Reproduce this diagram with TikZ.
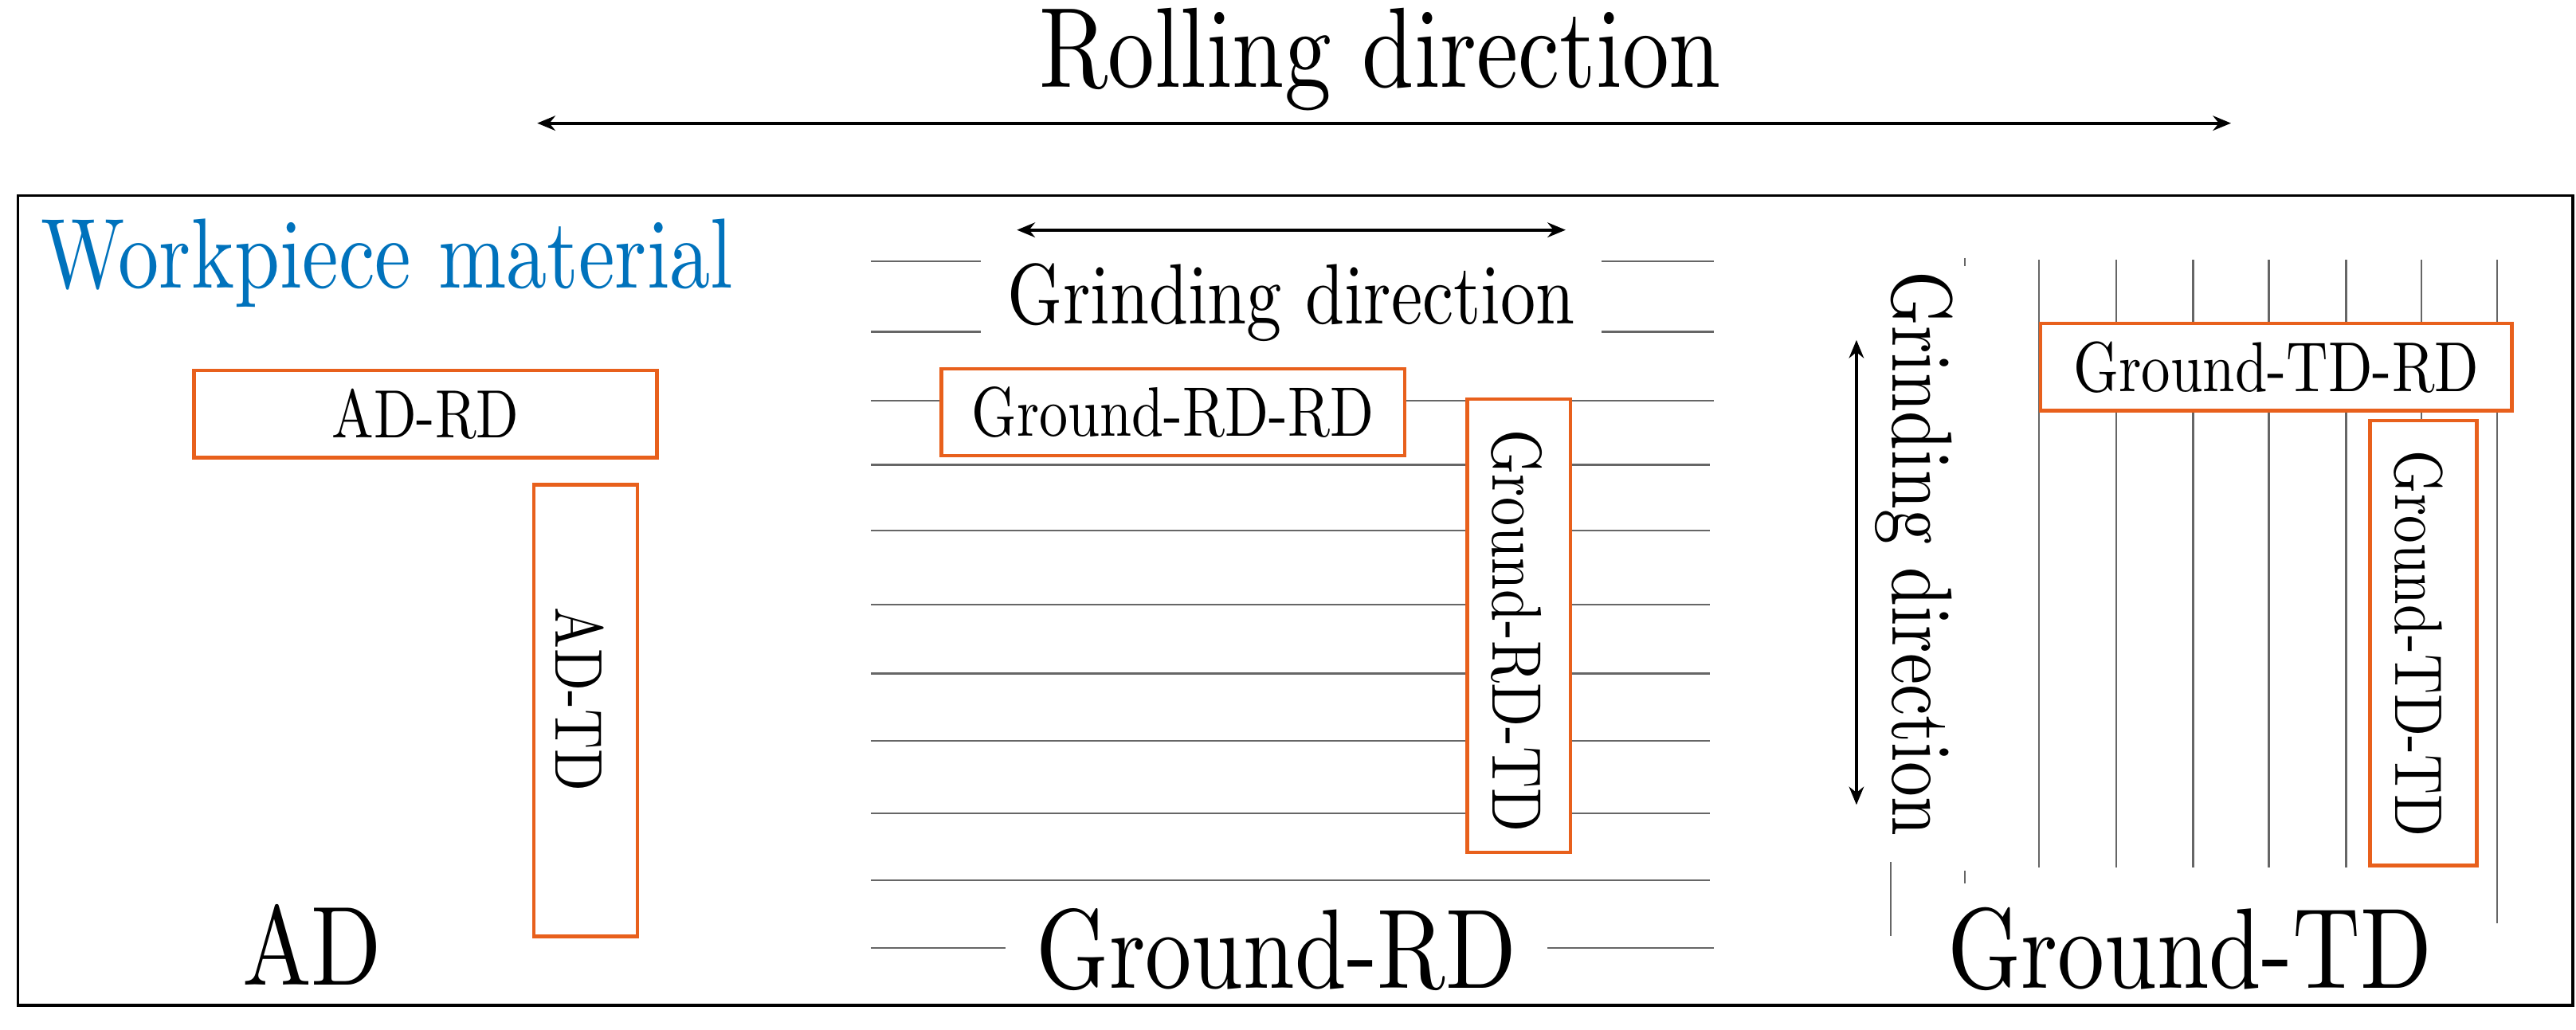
\documentclass[tikz,border=0pt]{standalone}
\usetikzlibrary{arrows.meta}
\definecolor{box}{RGB}{232,96,28}
\definecolor{wblue}{RGB}{0,114,188}
\newcommand{\fw}[2]{\resizebox{#1pt}{!}{\scalebox{1}[1.22]{#2}}}
\begin{document}
\begin{tikzpicture}[x=1pt,y=1pt,
  frame/.style={draw=black,line width=1.6pt},
  ob/.style={draw=box,line width=2.2pt,inner sep=0pt},
  gl/.style={draw=black!60,line width=1.1pt},
  arr/.style={line width=2pt,{Stealth[length=11pt,width=9pt]}-{Stealth[length=11pt,width=9pt]}},
  lab/.style={inner sep=0pt,text=black}]
\useasboundingbox (0,-627) rectangle (1568,0);
% top
\node[lab] (roll) at (840,-36) {\fw{415}{Rolling direction}};
\coordinate (ra) at (327,-75); \coordinate (rb) at (1358,-75);
\draw[arr] (ra) -- (rb);
\node[frame,minimum width=1555pt,minimum height=493pt,inner sep=0pt] (fr) at (788.5,-365.5) {};
\node[lab,text=wblue,anchor=west] (wm) at (25,-160) {\fw{421}{Workpiece material}};
% AD
\node[ob,minimum width=282pt,minimum height=53pt] (adrd) at (259,-252) {};
\node[lab] at (adrd) {\fw{114}{AD-RD}};
\node[ob,minimum width=63pt,minimum height=275pt] (adtd) at (356.5,-432.5) {};
\node[lab,rotate=-90] at (353,-426) {\fw{112}{AD-TD}};
\node[lab] (ad) at (190,-575) {\fw{85}{AD}};
% middle lines
\foreach \y in {159,202}{\draw[gl] (530,-\y) -- (597,-\y); \draw[gl] (975,-\y) -- (1043,-\y);}
\draw[gl] (530,-244) -- (573,-244); \draw[gl] (855,-244) -- (893,-244); \draw[gl] (956,-244) -- (1043,-244);
\foreach \y in {283,323,368,410,451,495}{\draw[gl] (530,-\y) -- (893,-\y); \draw[gl] (956,-\y) -- (1041,-\y);}
\draw[gl] (530,-536) -- (1041,-536);
\draw[gl] (530,-577) -- (612,-577); \draw[gl] (942,-577) -- (1043,-577);
\coordinate (ga) at (619,-140); \coordinate (gb) at (953,-140);
\draw[arr] (ga) -- (gb);
\node[lab] (gd) at (786,-184) {\fw{345}{Grinding direction}};
\node[ob,minimum width=282pt,minimum height=53pt] (rdrd) at (714,-251) {};
\node[lab] at (rdrd) {\fw{245}{Ground-RD-RD}};
\node[ob,minimum width=63pt,minimum height=276pt] (rdtd) at (924.5,-381) {};
\node[lab,rotate=-90] at (923,-384) {\fw{245}{Ground-RD-TD}};
\node[lab] (grd) at (777,-578) {\fw{292}{Ground-RD}};
% right lines
\foreach \x in {1288,1335,1381,1428}{\draw[gl] (\x,-158) -- (\x,-197); \draw[gl] (\x,-250) -- (\x,-528);}
\draw[gl] (1241,-158) -- (1241,-528);
\draw[gl] (1474,-158) -- (1474,-197); \draw[gl] (1474,-250) -- (1474,-256);
\draw[gl] (1520,-158) -- (1520,-197); \draw[gl] (1520,-250) -- (1520,-562);
\draw[gl] (1196,-157) -- (1196,-162); \draw[gl] (1196,-530) -- (1196,-538);
\draw[gl] (1151,-525) -- (1151,-570);
\coordinate (va) at (1130,-207); \coordinate (vb) at (1130,-490);
\draw[arr] (va) -- (vb);
\node[lab,rotate=-90] (gdv) at (1165,-337) {\fw{344}{Grinding direction}};
\node[ob,minimum width=287pt,minimum height=53pt] (tdrd) at (1385.5,-223.5) {};
\node[lab] at (tdrd) {\fw{247}{Ground-TD-RD}};
\node[ob,minimum width=65pt,minimum height=271pt] (tdtd) at (1475,-391.5) {};
\node[lab,rotate=-90] at (1472,-392) {\fw{235}{Ground-TD-TD}};
\node[lab] (gtd) at (1333,-578) {\fw{295}{Ground-TD}};
\end{tikzpicture}
\end{document}
